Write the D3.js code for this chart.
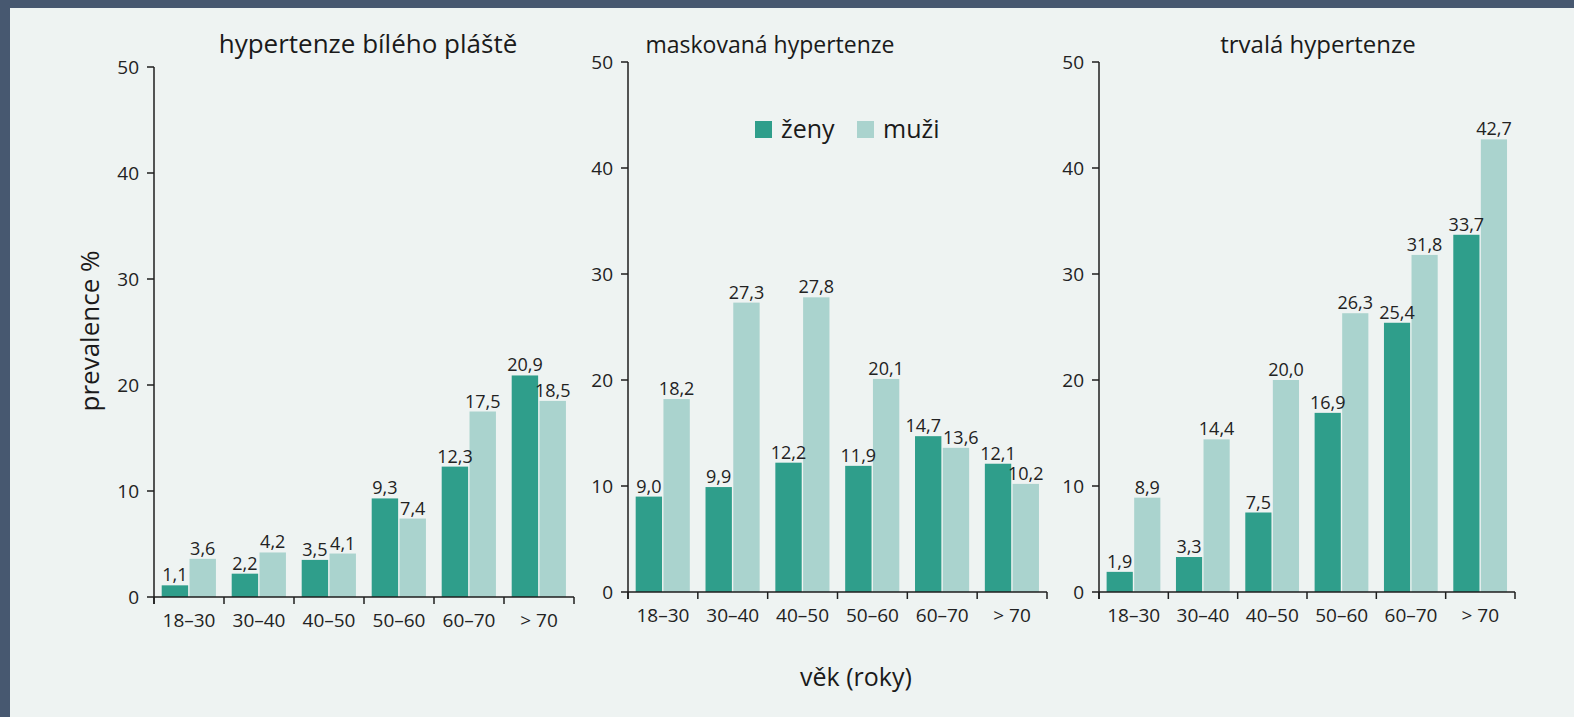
<!DOCTYPE html>
<html lang="cs">
<head>
    <meta charset="UTF-8">
    <title>Prevalence hypertenze podle věku</title>
    <script src="https://d3js.org/d3.v7.min.js"></script>
    <style>
        body { margin: 0; background: #475870; }
        svg { display: block; font-family: "Open Sans", sans-serif; }
        .tick-label { font-size: 19px; fill: #222; }
        .value-label { font-size: 18px; fill: #222; }
        .title { fill: #1a1a1a; }
        .axis-title, .legend-text { font-size: 25px; fill: #1a1a1a; }
        .y-title { font-size: 26px; }
        .axis-line { stroke: #1e1e1e; stroke-width: 1.5px; fill: none; }
    </style>
</head>
<body>
    <svg id="chart"></svg>

    <script>
        // categories
        var ageGroups = ["18–30", "30–40", "40–50", "50–60", "60–70", "> 70"];
        var sexes = ["ženy", "muži"];
        var yTicks = [0, 10, 20, 30, 40, 50];

        // values (prevalence %)
        var whiteCoatZeny = [1.1, 2.2, 3.5, 9.3, 12.3, 20.9];
        var whiteCoatMuzi = [3.6, 4.2, 4.1, 7.4, 17.5, 18.5];
        var maskedZeny = [9.0, 9.9, 12.2, 11.9, 14.7, 12.1];
        var maskedMuzi = [18.2, 27.3, 27.8, 20.1, 13.6, 10.2];
        var sustainedZeny = [1.9, 3.3, 7.5, 16.9, 25.4, 33.7];
        var sustainedMuzi = [8.9, 14.4, 20.0, 26.3, 31.8, 42.7];

        var width = 1574, height = 717;
        var colors = { "ženy": "#2f9e8b", "muži": "#aad3ce" };

        var svg = d3.select('#chart')
            .attr('width', width)
            .attr('height', height);

        // light panel on the dark frame
        svg.append('rect')
            .attr('x', 10).attr('y', 8)
            .attr('width', width - 10).attr('height', height - 8)
            .attr('fill', '#eef3f2');

        var panels = [
            { title: "hypertenze bílého pláště", zeny: whiteCoatZeny, muzi: whiteCoatMuzi,
              left: 154, right: 574, top: 67, bottom: 597, titleX: 368, titleSize: 26 },
            { title: "maskovaná hypertenze", zeny: maskedZeny, muzi: maskedMuzi,
              left: 628, right: 1047, top: 62, bottom: 592, titleX: 770, titleSize: 23 },
            { title: "trvalá hypertenze", zeny: sustainedZeny, muzi: sustainedMuzi,
              left: 1099, right: 1515, top: 62, bottom: 592, titleX: 1318, titleSize: 24 }
        ];

        var fmt = function(v) { return d3.format(".1f")(v).replace('.', ','); };

        panels.forEach(function(p) {
            var g = svg.append('g');

            var x0 = d3.scaleBand().domain(ageGroups).range([p.left, p.right]).padding(0);
            var bw = x0.bandwidth();
            var x1 = d3.scaleBand().domain(sexes)
                .range([bw * 0.11, bw * 0.885]).paddingInner(0.05);
            var y = d3.scaleLinear().domain([0, 50]).range([p.bottom, p.top]);

            var rows = ageGroups.map(function(a, i) {
                return { age: a, values: [
                    { sex: "ženy", value: p.zeny[i] },
                    { sex: "muži", value: p.muzi[i] }
                ]};
            });

            var groups = g.selectAll('.group')
                .data(rows)
                .enter().append('g')
                .attr('transform', function(d) { return 'translate(' + x0(d.age) + ',0)'; });

            groups.selectAll('rect')
                .data(function(d) { return d.values; })
                .enter().append('rect')
                .attr('x', function(d) { return x1(d.sex); })
                .attr('width', x1.bandwidth())
                .attr('y', function(d) { return y(d.value); })
                .attr('height', function(d) { return y(0) - y(d.value); })
                .attr('fill', function(d) { return colors[d.sex]; });

            groups.selectAll('.value-label')
                .data(function(d) { return d.values; })
                .enter().append('text')
                .attr('class', 'value-label')
                .attr('x', function(d) { return x1(d.sex) + x1.bandwidth() / 2; })
                .attr('y', function(d) { return y(d.value) - 4; })
                .attr('text-anchor', 'middle')
                .text(function(d) { return fmt(d.value); });

            // push apart the two labels of a group when they would collide
            groups.each(function() {
                var labels = d3.select(this).selectAll('.value-label').nodes();
                var a = labels[0], b = labels[1];
                var ya = +a.getAttribute('y'), yb = +b.getAttribute('y');
                if (Math.abs(ya - yb) > 18) return;
                var wa = a.getComputedTextLength(), wb = b.getComputedTextLength();
                var xa = +a.getAttribute('x'), xb = +b.getAttribute('x');
                var overlap = (xa + wa / 2 + 2) - (xb - wb / 2);
                if (overlap > 0) {
                    a.setAttribute('x', xa - overlap / 2);
                    b.setAttribute('x', xb + overlap / 2);
                }
            });

            // y axis
            g.append('line').attr('class', 'axis-line')
                .attr('x1', p.left).attr('x2', p.left)
                .attr('y1', y(50)).attr('y2', y(0) + 7);
            g.selectAll('.ytick')
                .data(yTicks)
                .enter().append('line').attr('class', 'axis-line')
                .attr('x1', p.left - 7).attr('x2', p.left)
                .attr('y1', function(d) { return y(d); })
                .attr('y2', function(d) { return y(d); });
            g.selectAll('.ylabel')
                .data(yTicks)
                .enter().append('text')
                .attr('class', 'tick-label')
                .attr('x', p.left - 15)
                .attr('y', function(d) { return y(d); })
                .attr('dy', '0.35em')
                .attr('text-anchor', 'end')
                .text(function(d) { return d; });

            // x axis
            g.append('line').attr('class', 'axis-line')
                .attr('x1', p.left).attr('x2', p.right)
                .attr('y1', y(0)).attr('y2', y(0));
            var bounds = ageGroups.map(function(a) { return x0(a); }).concat([p.right]);
            g.selectAll('.xtick')
                .data(bounds)
                .enter().append('line').attr('class', 'axis-line')
                .attr('x1', function(d) { return d; }).attr('x2', function(d) { return d; })
                .attr('y1', y(0)).attr('y2', y(0) + 7);
            g.selectAll('.xlabel')
                .data(ageGroups)
                .enter().append('text')
                .attr('class', 'tick-label')
                .attr('x', function(d) { return x0(d) + bw / 2; })
                .attr('y', y(0) + 30)
                .attr('text-anchor', 'middle')
                .text(function(d) { return d; });

            // panel title
            g.append('text')
                .attr('class', 'title')
                .attr('x', p.titleX).attr('y', 53)
                .attr('text-anchor', 'middle')
                .style('font-size', p.titleSize + 'px')
                .text(p.title);
        });

        // legend
        var legend = svg.append('g').attr('transform', 'translate(755,121)');
        var legendX = [0, 102];
        sexes.forEach(function(s, i) {
            legend.append('rect')
                .attr('x', legendX[i]).attr('y', 0)
                .attr('width', 17).attr('height', 17)
                .attr('fill', colors[s]);
            legend.append('text')
                .attr('class', 'legend-text')
                .attr('x', legendX[i] + 26).attr('y', 17)
                .text(s);
        });

        // axis titles
        svg.append('text')
            .attr('class', 'axis-title y-title')
            .attr('transform', 'translate(99,331) rotate(-90)')
            .attr('text-anchor', 'middle')
            .text('prevalence %');

        svg.append('text')
            .attr('class', 'axis-title')
            .attr('x', 856).attr('y', 686)
            .attr('text-anchor', 'middle')
            .text('věk (roky)');
    </script>
</body>
</html>
